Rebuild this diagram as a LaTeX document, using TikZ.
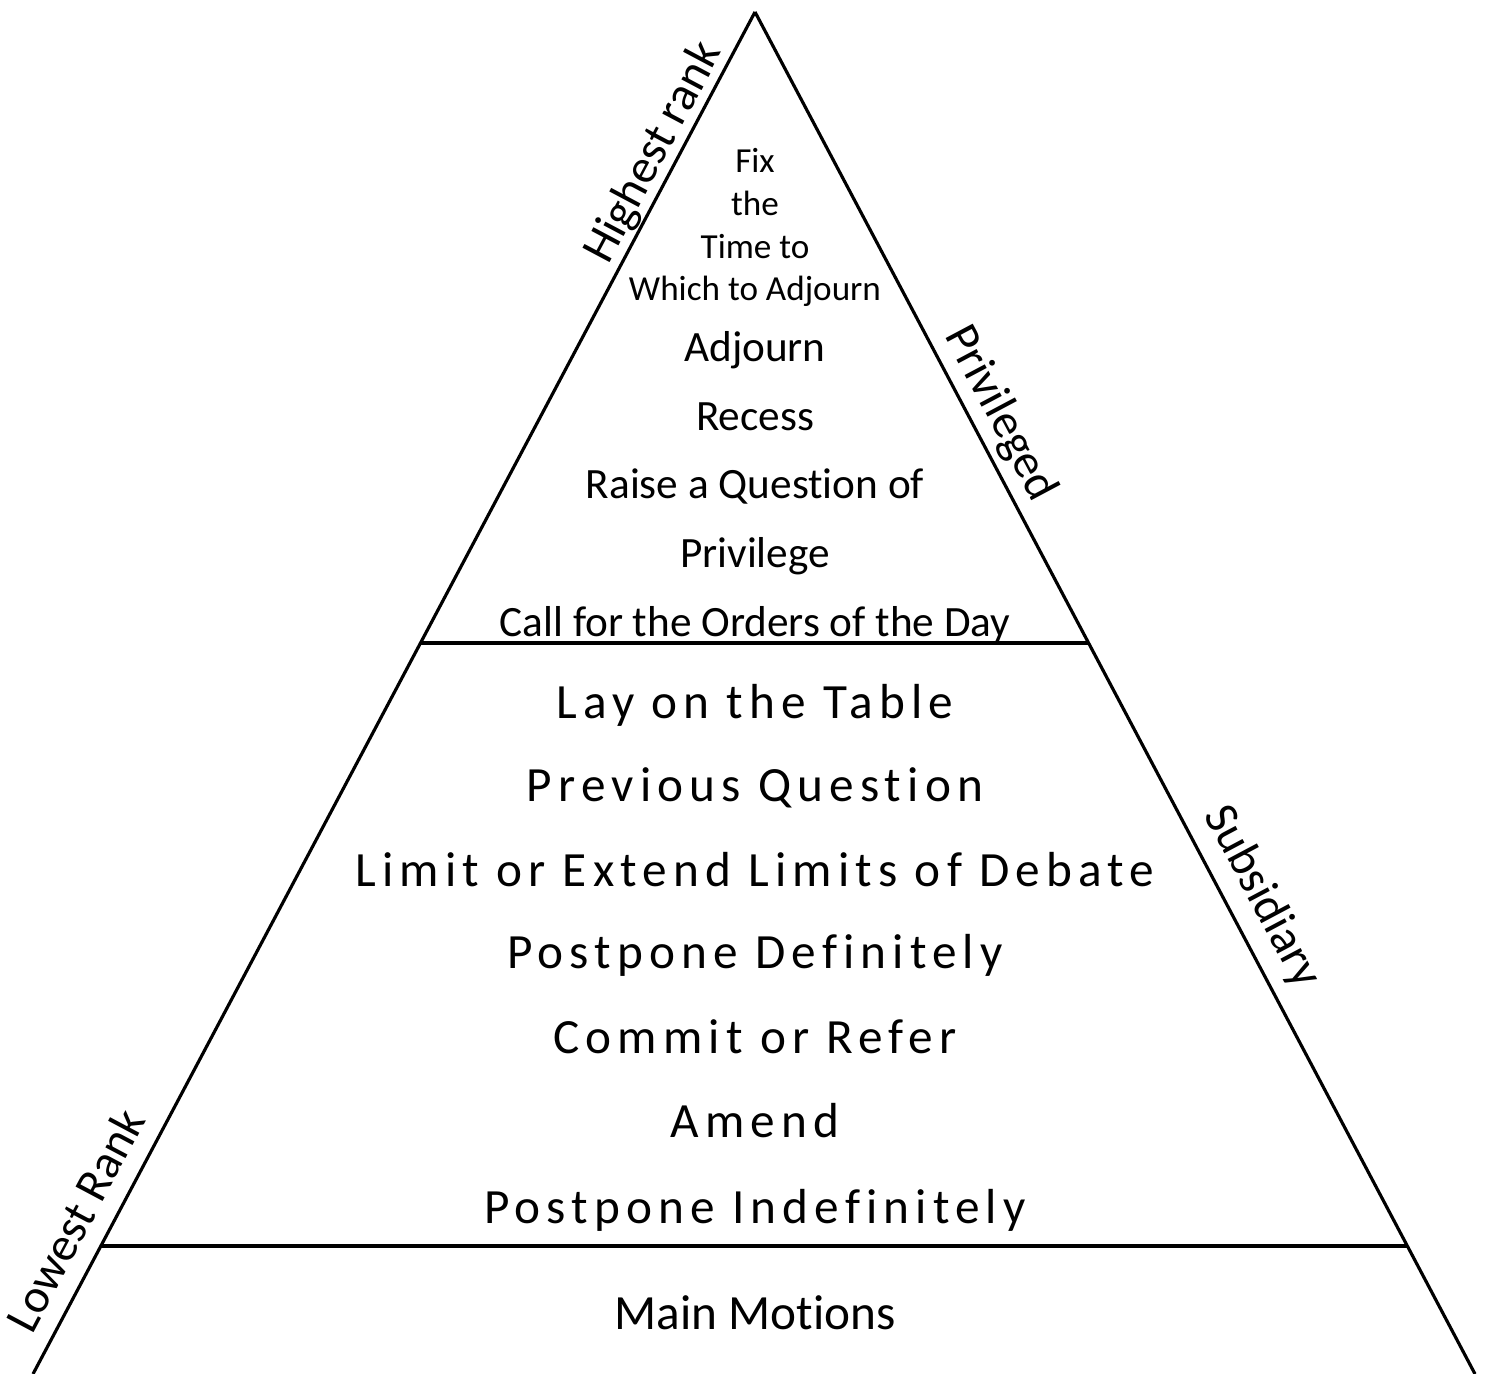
\documentclass[tikz,border=0pt]{standalone}
\usepackage{fontspec}
\setmainfont[Ligatures=NoCommon]{Carlito}
\newfontfamily\spacedfont[LetterSpace=12.5,Ligatures=NoCommon]{Carlito}
\usetikzlibrary{calc,positioning}

\begin{document}
\begin{tikzpicture}[x=0.01cm,y=-0.01cm,
  side/.style={line width=0.9pt},
  divider/.style={line width=1.1pt},
  edgelabel/.style={inner sep=0pt,font=\fontsize{13.6}{16}\selectfont},
  fixtext/.style={anchor=base,inner sep=0pt,align=center,font=\fontsize{10}{12.2}\selectfont},
  privtext/.style={anchor=base,inner sep=0pt,font=\fontsize{12.3}{14}\selectfont},
  subtext/.style={anchor=base,inner sep=0pt,font=\spacedfont\fontsize{14}{16}\selectfont},
  maintext/.style={anchor=base,inner sep=0pt,font=\fontsize{14}{16}\selectfont}]
\useasboundingbox (0,0) rectangle (1485,1374);

\coordinate (apex) at (755,12);
\coordinate (bl) at (33,1374);
\coordinate (br) at (1475,1374);

% sides of the pyramid
\draw[side] (bl) -- (apex);
\draw[side] (apex) -- (br);
\node[edgelabel,rotate=62] (highest) at (654,153) {Highest rank};
\node[edgelabel,rotate=62] (lowest) at (75,1220) {Lowest Rank};
\node[edgelabel,rotate=-62] (privileged) at (1000,414) {Privileged};
\node[edgelabel,rotate=-62] (subsidiary) at (1262,897) {Subsidiary};

% levels
\draw[divider] ($(apex)!0.4633!(bl)$) coordinate (d1l) -- ($(apex)!0.4633!(br)$) coordinate (d1r);
\draw[divider] ($(apex)!0.906!(bl)$) coordinate (d2l) -- ($(apex)!0.906!(br)$) coordinate (d2r);

% privileged motions
\node[fixtext] (fix) at (755,301) {Fix\\the\\Time to\\Which to Adjourn};
\node[privtext] (adjourn) at (755,362) {Adjourn};
\node[privtext] (recess) at (755,431) {Recess};
\node[privtext] (raise) at (755,499) {Raise a Question of};
\node[privtext] (privilege) at (755,568) {Privilege};
\node[privtext] (orders) at (755,637) {Call for the Orders of the Day};

% subsidiary motions
\node[subtext] (table) at (755,719) {Lay on the Table};
\node[subtext] (previous) at (755,802) {Previous Question};
\node[subtext] (limit) at (755,887) {Limit or Extend Limits of Debate};
\node[subtext] (postdef) at (755,969) {Postpone Definitely};
\node[subtext] (commit) at (755,1054) {Commit or Refer};
\node[subtext] (amend) at (755,1137) {Amend};
\node[subtext] (postindef) at (755,1223) {Postpone Indefinitely};

\node[maintext] (main) at (755,1329) {Main Motions};
\end{tikzpicture}
\end{document}
